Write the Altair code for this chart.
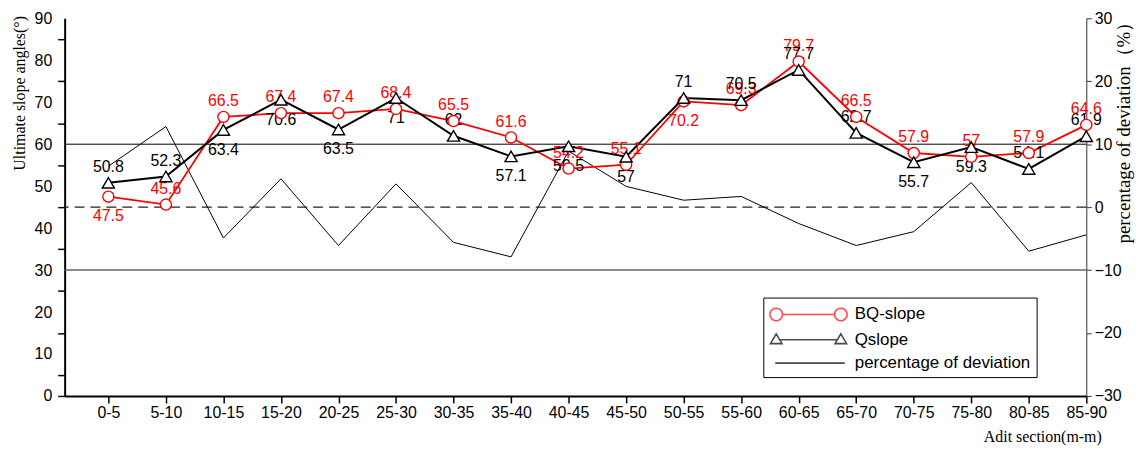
import json
import math
import altair as alt
import pandas as pd

# ---------------- data ----------------
categories = ["0-5", "5-10", "10-15", "15-20", "20-25", "25-30", "30-35", "35-40", "40-45",
              "45-50", "50-55", "55-60", "60-65", "65-70", "70-75", "75-80", "80-85", "85-90"]
bq_slope = [47.5, 45.6, 66.5, 67.4, 67.4, 68.4, 65.5, 61.6, 54.2, 55.1, 70.2, 69.3, 79.7, 66.5, 57.9, 57.0, 57.9, 64.6]
q_slope = [50.8, 52.3, 63.4, 70.6, 63.5, 71.0, 62.0, 57.1, 59.5, 57.0, 71.0, 70.5, 77.7, 62.7, 55.7, 59.3, 54.1, 61.9]
deviation = [6.5, 12.8, -4.9, 4.5, -6.1, 3.7, -5.6, -7.9, 8.9, 3.3, 1.1, 1.7, -2.6, -6.1, -3.9, 3.9, -7.0, -4.4]
bq_label_side = ["below", "above", "above", "above", "above", "above", "above", "above", "above",
                 "above", "below", "above", "above", "above", "above", "above", "above", "above"]
q_label_side = ["above", "above", "below", "below", "below", "below", "above", "below", "below",
                "below", "above", "above", "above", "above", "below", "below", "above", "above"]
ref_levels = [10, 0, -10]
series_names = ["BQ-slope", "Qslope", "percentage of deviation"]

# ---------------- tables ----------------
rows = []
for i, c in enumerate(categories):
    rows.append({"idx": i, "cat": c, "series": series_names[0], "value": bq_slope[i],
                 "side": bq_label_side[i], "label": f"{bq_slope[i]:g}"})
    rows.append({"idx": i, "cat": c, "series": series_names[1], "value": q_slope[i],
                 "side": q_label_side[i], "label": f"{q_slope[i]:g}"})
long_df = pd.DataFrame(rows)
dev_df = pd.DataFrame({"idx": list(range(len(categories))), "dev": deviation})
legend_df = pd.DataFrame({"series": series_names})

SANS = "Liberation Sans"
SERIF = "Liberation Serif"
RED = "#ff0000"

# ---------------- scales / axes ----------------
x_axis = alt.Axis(
    values=list(range(len(categories))),
    labelExpr=f"{json.dumps(categories)}[datum.value]",
    labelOverlap=False, labelFlush=False,
    title="Adit section(m-m)", titleFont=SERIF, titleFontSize=16, titleFontWeight="normal",
    titleColor="black", titleAnchor="end", titleAlign="right", titleBaseline="alphabetic",
    titleX=1043, titleY=46,
    labelFont=SANS, labelFontSize=16, labelColor="black", labelPadding=2,
    domainColor="black", domainWidth=2, tickColor="black", tickWidth=1.5, tickSize=7, grid=False,
)
X = alt.X("idx:Q", scale=alt.Scale(domain=[-0.76, 17], nice=False, zero=False), axis=x_axis)

left_axis = alt.Axis(
    orient="left", values=list(range(0, 95, 5)),
    labelExpr="datum.value % 10 === 0 ? datum.label : ''",
    tickOpacity={"condition": {"test": "datum.value % 10 === 0 && datum.value > 0", "value": 0}, "value": 1},
    title="Ultimate slope angles(°)", titleFont=SERIF, titleFontSize=16, titleFontWeight="normal",
    titleColor="black", titleX=-45, titleY=75, titleAlign="center", titleBaseline="middle",
    labelFont=SANS, labelFontSize=16, labelColor="black", labelPadding=6,
    domainColor="black", domainWidth=2, tickColor="black", tickWidth=1.5, tickSize=7, grid=False,
)
Y_left = alt.Y("value:Q", scale=alt.Scale(domain=[0, 90], nice=False, zero=False), axis=left_axis)

right_axis = alt.Axis(
    orient="right", values=[-30, -20, -10, 0, 10, 20, 30],
    title="percentage of deviation（%）", titleFont=SERIF, titleFontSize=19, titleFontWeight="normal",
    titleColor="black", titleAngle=270, titleX=37, titleY=110, titleAlign="center", titleBaseline="middle",
    labelFont=SANS, labelFontSize=16, labelColor="black", labelPadding=3,
    domainColor="#333333", domainWidth=1, tickColor="#333333", tickWidth=1, tickSize=5, grid=False,
)
Y_right = alt.Y("dev:Q", scale=alt.Scale(domain=[-30, 30], nice=False, zero=False), axis=right_axis)

# ---------------- right-axis group: deviation line + reference lines ----------------
dev_line = alt.Chart(dev_df).mark_line(color="black", strokeWidth=1).encode(x=X, y=Y_right)
rule_styles = [
    dict(color="black", strokeWidth=1),
    dict(color="#222222", strokeWidth=1.2, strokeDash=[10, 6]),
    dict(color="#666666", strokeWidth=1.5),
]
rules = [
    alt.Chart(pd.DataFrame({"dev": [lvl]})).mark_rule(**sty).encode(y=Y_right)
    for lvl, sty in zip(ref_levels, rule_styles)
]
right_group = alt.layer(*rules, dev_line)

# ---------------- left-axis group: slopes ----------------
base = alt.Chart(long_df)
is_bq = f"datum.series === '{series_names[0]}'"
is_q = f"datum.series === '{series_names[1]}'"

bq_line = base.transform_filter(is_bq).mark_line(color=RED, strokeWidth=1.8).encode(x=X, y=Y_left)
q_line = base.transform_filter(is_q).mark_line(color="black", strokeWidth=2).encode(x=X, y=Y_left)


def labels(test, color, side, dy):
    return base.transform_filter(f"{test} && datum.side === '{side}'").mark_text(
        font=SANS, fontSize=16, color=color, dy=dy, baseline="middle", align="center"
    ).encode(x=X, y=Y_left, text="label:N")


lbls = [
    labels(is_bq, RED, "above", -16), labels(is_bq, RED, "below", 20),
    labels(is_q, "black", "above", -16), labels(is_q, "black", "below", 20),
]
bq_pts = base.transform_filter(is_bq).mark_point(
    shape="circle", size=125, filled=True, fill="white", stroke=RED, strokeWidth=1.4, opacity=1
).encode(x=X, y=Y_left)
q_pts = base.transform_filter(is_q).mark_point(
    shape="triangle-up", size=150, filled=True, fill="white", stroke="black", strokeWidth=1.4, opacity=1
).encode(x=X, y=Y_left)
left_group = alt.layer(bq_line, q_line, *lbls, bq_pts, q_pts)

# ---------------- legend (native legend with custom glyphs) ----------------


def circ(cx, r, n=20):
    pts = [(cx + r * math.cos(2 * math.pi * k / n), r * math.sin(2 * math.pi * k / n)) for k in range(n)]
    return "M" + " L".join(f"{x:.3f},{y:.3f}" for x, y in pts) + " Z"


def tri(cx):
    return f"M{cx:.3f},-0.6 L{cx + 0.58:.3f},0.38 L{cx - 0.58:.3f},0.38 Z"


bq_glyph = "M0.23,0 L5.47,0 " + circ(-0.4, 0.63) + " " + circ(6.1, 0.63)
q_glyph = "M-0.05,0 L5.75,0 " + tri(-0.4) + " " + tri(6.1)
dev_glyph = "M-0.5,0 L6.5,0"

leg = alt.Legend(
    title=None, orient="none", legendX=703, legendY=281, padding=6,
    strokeColor="black", fillColor="white", cornerRadius=0,
    symbolSize=400, symbolStrokeWidth=1.6,
    labelFont=SANS, labelFontSize=17, labelColor="black", labelOffset=64, labelLimit=400,
    rowPadding=4.5,
)
legend_layer = alt.Chart(legend_df).mark_point(clip=True, filled=False, strokeWidth=1.6).encode(
    x=alt.value(-500), y=alt.value(-500),
    color=alt.Color("series:N", scale=alt.Scale(domain=series_names, range=[RED, "black", "black"]), legend=leg),
    shape=alt.Shape("series:N", scale=alt.Scale(domain=series_names, range=[bq_glyph, q_glyph, dev_glyph]), legend=leg),
)

chart = (
    alt.layer(right_group, left_group, legend_layer)
    .resolve_scale(y="independent")
    .properties(
        width=1028, height=380,
        autosize=alt.AutoSizeParams(type="none"),
        padding={"left": 57, "top": 9, "right": 50, "bottom": 53},
    )
    .configure_view(stroke=None)
    .configure_axis(grid=False)
)

chart.save("out.html", embed_options={"renderer": "svg", "actions": False})
